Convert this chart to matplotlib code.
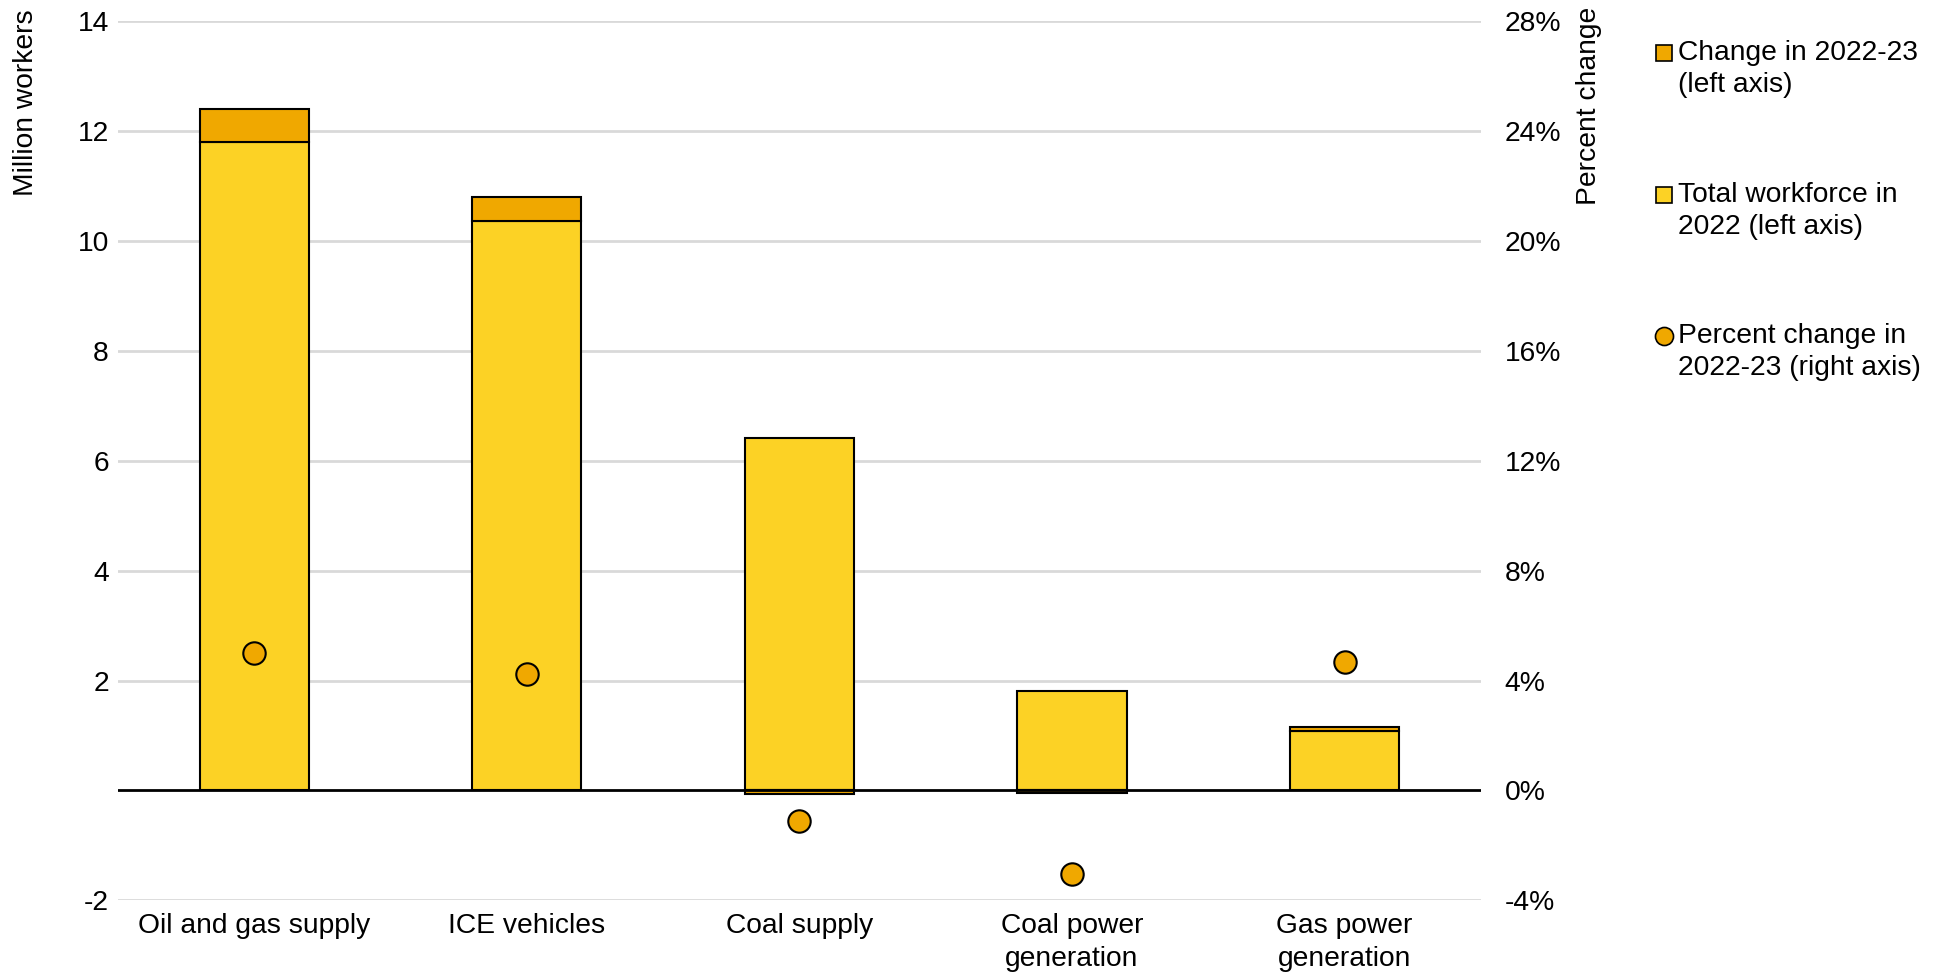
import matplotlib
matplotlib.use("Agg")
import matplotlib.pyplot as plt
import numpy as np
from matplotlib.lines import Line2D
from matplotlib.ticker import FuncFormatter

plt.rcParams['font.family'] = ['Liberation Sans', 'DejaVu Sans']
plt.rcParams['axes.unicode_minus'] = False

categories = ["Oil and gas supply", "ICE vehicles", "Coal supply", "Coal power\ngeneration", "Gas power\ngeneration"]
total_2022 = [11.80, 10.35, 6.41, 1.81, 1.08]
change_2022_23 = [0.60, 0.44, -0.07, -0.05, 0.07]
pct_change = [5.0, 4.24, -1.12, -3.05, 4.68]

legend_labels = [["Change in 2022-23", "(left axis)"],
                 ["Total workforce in", "2022 (left axis)"],
                 ["Percent change in", "2022-23 (right axis)"]]

c_total = "#FCD225"
c_change = "#F0A800"
fs = 20.3

fig = plt.figure(figsize=(19.46, 9.74), dpi=100)
ax = fig.add_axes([0.0606, 0.0755, 0.7004, 0.9032])
x = np.arange(len(categories))
tot = np.array(total_2022)
chg = np.array(change_2022_23)
bottom = np.where(chg >= 0, tot, 0)
w = 0.4
ax.bar(x, tot, w, color=c_total, edgecolor="black", linewidth=1.5, zorder=2)
ax.bar(x, chg, w, bottom=bottom, color=c_change, edgecolor="black", linewidth=1.5, zorder=2)
ax.axhline(0, color="black", linewidth=2, zorder=4)

ax.set_xlim(-0.5, len(categories) - 0.5)
ax.set_ylim(-2, 14)
ax.set_yticks([-2, 2, 4, 6, 8, 10, 12, 14])
ax.yaxis.grid(True, color="#D9D9D9", linewidth=2, zorder=0)
ax.set_axisbelow(True)
for s in ax.spines.values():
    s.set_visible(False)
ax.tick_params(axis="y", length=0, labelsize=fs, pad=6.5)
ax.set_xticks(x)
ax.set_xticklabels(categories, fontsize=fs, linespacing=1.35)
ax.tick_params(axis="x", length=0, pad=9)

ax2 = ax.twinx()
ax2.set_ylim(-4, 28)
ax2.set_yticks([-4, 0, 4, 8, 12, 16, 20, 24, 28])
ax2.yaxis.set_major_formatter(FuncFormatter(lambda v, p: f"{v:.0f}%"))
for s in ax2.spines.values():
    s.set_visible(False)
ax2.tick_params(axis="y", length=0, labelsize=fs, pad=17)
ax2.scatter(x, pct_change, s=260, color=c_change, edgecolor="black", linewidth=1.5, zorder=5)

fig.text(0.0135, 0.99, "Million workers", rotation=90, ha="center", va="top", fontsize=fs)
fig.text(0.8165, 0.993, "Percent change", rotation=90, ha="center", va="top", fontsize=fs)

# legend (manual, marker aligned with first text line)
entry_y = [53.4, 194.9, 336.4]  # pixel rows of first-line centers
line_gap = 32.0
W, H = 1946.0, 974.0
markers = ["s", "s", "o"]
mcolors = [c_change, c_total, c_change]
msizes = [11.5, 11.5, 13]
for (l1, l2), yy, mk, mc, ms in zip(legend_labels, entry_y, markers, mcolors, msizes):
    fy = 1 - yy / H
    fig.add_artist(Line2D([1664 / W], [fy], transform=fig.transFigure, marker=mk, linestyle="none",
                          markersize=ms, markerfacecolor=mc, markeredgecolor="black", markeredgewidth=1.2))
    fig.text(1678 / W, fy, l1, ha="left", va="center", fontsize=fs)
    fig.text(1678 / W, 1 - (yy + line_gap) / H, l2, ha="left", va="center", fontsize=fs)

fig.savefig("out.png", dpi=100)
